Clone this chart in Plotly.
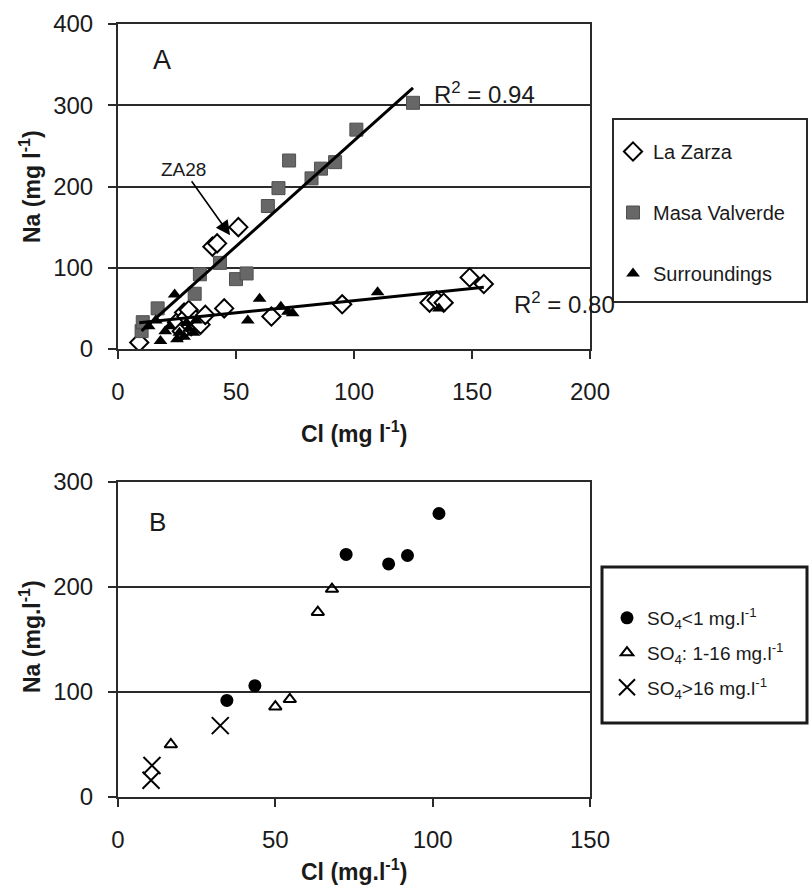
import numpy as np
import plotly.graph_objects as go

# ---------------- Panel A data ----------------
lz_cl = [9, 25, 27, 28, 29, 30, 31, 33, 35, 37, 40, 42, 45, 51, 65, 95, 132, 135, 138, 149, 155]
lz_na = [8, 33, 22, 45, 40, 48, 28, 36, 30, 42, 126, 130, 50, 150, 40, 55, 57, 60, 57, 88, 80]

mv_cl = [10, 10.5, 16.8, 32.5, 34.7, 43.2, 50, 54.5, 63.5, 68, 72.5, 82, 86, 92, 101, 125]
mv_na = [22, 33, 50, 68, 92, 106, 86, 93, 176, 198, 232, 210, 222, 230, 270, 303]

su_cl = [13, 16, 18, 20, 22, 24, 25, 26, 28, 29, 30, 32, 33, 55, 60, 69, 72, 74, 110, 136]
su_na = [28, 35, 10, 22, 28, 67, 12, 20, 15, 32, 25, 20, 35, 35, 62, 52, 46, 44, 70, 50]

lower_fit_slope = 0.30
lower_fit_intercept = 29.5
r2_labels = ["R<sup>2</sup> = 0.94", "R<sup>2</sup> = 0.80"]

# ---------------- Panel B data ----------------
b_low_cl = [34.6, 43.5, 72.5, 86, 92, 102]
b_low_na = [92, 106, 231, 222, 230, 270]
b_mid_cl = [16.8, 50, 54.6, 63.5, 68]
b_mid_na = [50, 86, 93, 176, 198]
b_high_cl = [10.5, 10.8, 32.5]
b_high_na = [16, 30, 68]

FONT = "Liberation Sans, Arial, sans-serif"
W, H = 809, 889


def px_x(p):
    return p / W


def px_y(p):
    return 1 - p / H


fig = go.Figure()

# Panel A scatter
fig.add_trace(go.Scatter(x=lz_cl, y=lz_na, mode="markers", name="La Zarza",
                         marker=dict(symbol="diamond", size=14, color="white",
                                     line=dict(color="black", width=2)),
                         xaxis="x", yaxis="y", legend="legend", legendgroup="a1"))
fig.add_trace(go.Scatter(x=mv_cl, y=mv_na, mode="markers", name="Masa Valverde",
                         marker=dict(symbol="square", size=13, color="#676767",
                                     line=dict(color="#505050", width=1)),
                         xaxis="x", yaxis="y", legend="legend", legendgroup="a2"))
fig.add_trace(go.Scatter(x=su_cl, y=su_na, mode="markers", name="Surroundings",
                         marker=dict(symbol="triangle-up", size=12, color="black"),
                         xaxis="x", yaxis="y", legend="legend", legendgroup="a3"))

# trend lines
slope, intercept = np.polyfit(mv_cl, mv_na, 1)
xs = np.array([min(mv_cl), max(mv_cl)])
fig.add_trace(go.Scatter(x=xs, y=slope * xs + intercept, mode="lines",
                         line=dict(color="black", width=3), showlegend=False,
                         xaxis="x", yaxis="y"))
xs2 = np.array([min(lz_cl), max(lz_cl)])
fig.add_trace(go.Scatter(x=xs2, y=lower_fit_slope * xs2 + lower_fit_intercept, mode="lines",
                         line=dict(color="black", width=3), showlegend=False,
                         xaxis="x", yaxis="y"))

# Panel B scatter
fig.add_trace(go.Scatter(x=b_low_cl, y=b_low_na, mode="markers",
                         name="SO<sub>4</sub>&lt;1 mg.l<sup>-1</sup>",
                         marker=dict(symbol="circle", size=13, color="black"),
                         xaxis="x2", yaxis="y2", legend="legend2", legendgroup="b1"))
fig.add_trace(go.Scatter(x=b_mid_cl, y=b_mid_na, mode="markers",
                         name="SO<sub>4</sub>: 1-16 mg.l<sup>-1</sup>",
                         marker=dict(symbol="triangle-up-open", size=11, color="black",
                                     line=dict(width=2)),
                         xaxis="x2", yaxis="y2", legend="legend2", legendgroup="b2"))
fig.add_trace(go.Scatter(x=b_high_cl, y=b_high_na, mode="markers",
                         name="SO<sub>4</sub>&gt;16 mg.l<sup>-1</sup>",
                         marker=dict(symbol="x-thin-open", size=17, color="black",
                                     line=dict(width=2, color="black")),
                         xaxis="x2", yaxis="y2", legend="legend2", legendgroup="b3"))

axis_common = dict(showline=True, linecolor="#2a2a2a", linewidth=2, mirror=True,
                   ticks="outside", ticklen=8, tickwidth=2, tickcolor="#2a2a2a",
                   zeroline=False, automargin=False,
                   tickfont=dict(family=FONT, size=24, color="#1a1a1a"))

dom_x = [px_x(118), px_x(590)]
fig.update_layout(
    width=W, height=H, margin=dict(l=0, r=0, t=0, b=0),
    paper_bgcolor="white", plot_bgcolor="white",
    font=dict(family=FONT, color="#1a1a1a"),
    xaxis=dict(domain=dom_x, range=[0, 200], dtick=50, showgrid=False, anchor="y",
               ticklabelstandoff=12, **axis_common),
    yaxis=dict(domain=[px_y(349), px_y(24)], range=[0, 400], dtick=100, anchor="x",
               showgrid=True, gridcolor="#2a2a2a", gridwidth=2, ticklabelstandoff=10,
               **axis_common),
    xaxis2=dict(domain=dom_x, range=[0, 150], dtick=50, showgrid=False, anchor="y2",
                ticklabelstandoff=12, **axis_common),
    yaxis2=dict(domain=[px_y(797), px_y(482)], range=[0, 300], dtick=100, anchor="x2",
                showgrid=True, gridcolor="#2a2a2a", gridwidth=2, ticklabelstandoff=10,
                **axis_common),
    legend=dict(x=px_x(613), y=px_y(132), xanchor="left", yanchor="top",
                bgcolor="rgba(0,0,0,0)", borderwidth=0, tracegroupgap=32,
                font=dict(family=FONT, size=20, color="#1a1a1a")),
    legend2=dict(x=px_x(607), y=px_y(599), xanchor="left", yanchor="top",
                 bgcolor="rgba(0,0,0,0)", borderwidth=0, tracegroupgap=7,
                 font=dict(family=FONT, size=19, color="#1a1a1a")),
    shapes=[
        dict(type="rect", xref="paper", yref="paper",
             x0=px_x(613), x1=px_x(807), y0=px_y(302), y1=px_y(119),
             line=dict(color="#2a2a2a", width=2), fillcolor="rgba(0,0,0,0)"),
        dict(type="rect", xref="paper", yref="paper",
             x0=px_x(602), x1=px_x(807), y0=px_y(723), y1=px_y(567),
             line=dict(color="#1a1a1a", width=3), fillcolor="rgba(0,0,0,0)"),
    ],
)

C = dict(xanchor="center", yanchor="middle", showarrow=False)
ann = []
# axis titles
ann.append(dict(text="<b>Cl (mg l<sup>-1</sup>)</b>", xref="paper", yref="paper",
                x=px_x(354), y=px_y(432), font=dict(size=23), **C))
ann.append(dict(text="<b>Na (mg l<sup>-1</sup>)</b>", xref="paper", yref="paper",
                x=px_x(30), y=px_y(186), textangle=-90, font=dict(size=23), **C))
ann.append(dict(text="<b>Cl (mg.l<sup>-1</sup>)</b>", xref="paper", yref="paper",
                x=px_x(354), y=px_y(870), font=dict(size=23), **C))
ann.append(dict(text="<b>Na (mg.l<sup>-1</sup>)</b>", xref="paper", yref="paper",
                x=px_x(30), y=px_y(636), textangle=-90, font=dict(size=23), **C))
# panel letters
ann.append(dict(text="A", xref="paper", yref="paper", x=px_x(162), y=px_y(60),
                font=dict(size=27), **C))
ann.append(dict(text="B", xref="paper", yref="paper", x=px_x(157), y=px_y(522),
                font=dict(size=26), **C))
# R2 labels
ann.append(dict(text=r2_labels[0], xref="x", yref="y", x=133, y=315, xanchor="left",
                yanchor="middle", showarrow=False, font=dict(size=24)))
ann.append(dict(text=r2_labels[1], xref="x", yref="y", x=167, y=57, xanchor="left",
                yanchor="middle", showarrow=False, font=dict(size=24)))
# ZA28 arrow
ann.append(dict(text="ZA28", xref="x", yref="y", x=47.5, y=140, ax=-47, ay=-66,
                showarrow=True, arrowhead=2, arrowsize=1.8, arrowwidth=1.6,
                arrowcolor="black", font=dict(size=19)))
fig.update_layout(annotations=ann)

fig.write_html("out.html", config={"displayModeBar": False},
               post_script="document.body.style.margin='0';document.body.style.padding='0';")
